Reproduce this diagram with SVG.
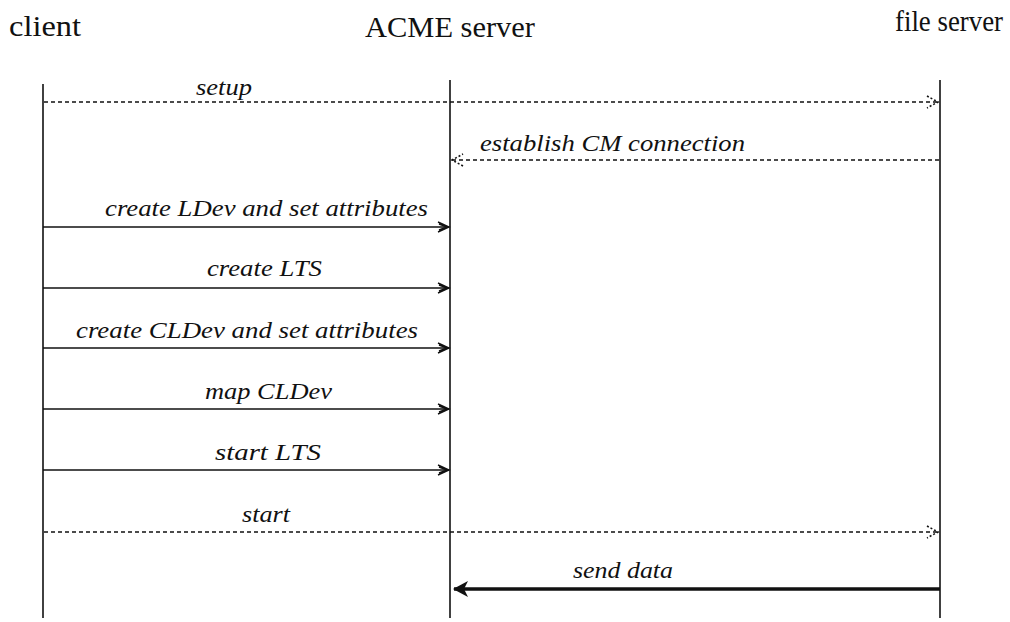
<svg xmlns="http://www.w3.org/2000/svg" width="1010" height="622" viewBox="0 0 1010 622">
  <style>
    .head { font-family: "Liberation Serif", "Times New Roman", serif; font-size: 29px; fill: #111; }
    .lbl { font-family: "Liberation Serif", "Times New Roman", serif; font-style: italic; font-size: 23px; fill: #111; }
    .life { stroke: #111; stroke-width: 1.6; fill: none; }
    .msg { stroke: #111; stroke-width: 1.6; fill: none; }
    .async { stroke: #111; stroke-width: 1.5; stroke-dasharray: 4 3; fill: none; }
    .bulk { stroke: #111; stroke-width: 3.5; fill: none; }
  </style>
  <defs>
    <!-- open chevron for synchronous calls -->
    <marker id="open" markerUnits="userSpaceOnUse" markerWidth="14" markerHeight="14" refX="11" refY="6" orient="auto" overflow="visible">
      <path d="M0,1 L11,6 L0,11 M1,3 L9,6 L1,9" fill="none" stroke="#111" stroke-width="1.4"/>
    </marker>
    <!-- dotted chevron for asynchronous notifications -->
    <marker id="dotted" markerUnits="userSpaceOnUse" markerWidth="14" markerHeight="14" refX="11" refY="6" orient="auto" overflow="visible">
      <path d="M0,0 L11,6 L0,12" fill="none" stroke="#111" stroke-width="1.6" stroke-dasharray="2 2"/>
    </marker>
    <!-- filled barb for the data stream -->
    <marker id="solid" markerUnits="userSpaceOnUse" markerWidth="18" markerHeight="16" refX="14" refY="8" orient="auto" overflow="visible">
      <path d="M0,0 L15,8 L0,16 L4,8 Z" fill="#111"/>
    </marker>
  </defs>

  <g id="client">
    <text class="head" x="9" y="36" textLength="72" lengthAdjust="spacingAndGlyphs">client</text>
    <line class="life" x1="43" y1="84" x2="43" y2="618"/>
  </g>
  <g id="acme-server">
    <text class="head" x="365" y="37" textLength="170" lengthAdjust="spacingAndGlyphs">ACME server</text>
    <line class="life" x1="450" y1="80" x2="450" y2="618"/>
  </g>
  <g id="file-server">
    <text class="head" x="895" y="31" textLength="108" lengthAdjust="spacingAndGlyphs">file server</text>
    <line class="life" x1="940" y1="80" x2="940" y2="618"/>
  </g>

  <g id="connectors">
    <line class="async" x1="44" y1="102" x2="938" y2="102" marker-end="url(#dotted)"/>
    <text class="lbl" x="196" y="95" textLength="56" lengthAdjust="spacingAndGlyphs">setup</text>

    <line class="async" x1="939" y1="160" x2="452" y2="160" marker-end="url(#dotted)"/>
    <text class="lbl" x="480" y="151" textLength="265" lengthAdjust="spacingAndGlyphs">establish CM connection</text>

    <line class="msg" x1="43" y1="227" x2="449" y2="227" marker-end="url(#open)"/>
    <text class="lbl" x="105" y="216" textLength="323" lengthAdjust="spacingAndGlyphs">create LDev and set attributes</text>

    <line class="msg" x1="43" y1="288" x2="449" y2="288" marker-end="url(#open)"/>
    <text class="lbl" x="207" y="276" textLength="115" lengthAdjust="spacingAndGlyphs">create LTS</text>

    <line class="msg" x1="43" y1="348" x2="449" y2="348" marker-end="url(#open)"/>
    <text class="lbl" x="76" y="338" textLength="342" lengthAdjust="spacingAndGlyphs">create CLDev and set attributes</text>

    <line class="msg" x1="43" y1="409" x2="449" y2="409" marker-end="url(#open)"/>
    <text class="lbl" x="205" y="399" textLength="127" lengthAdjust="spacingAndGlyphs">map CLDev</text>

    <line class="msg" x1="43" y1="470" x2="449" y2="470" marker-end="url(#open)"/>
    <text class="lbl" x="215" y="460" textLength="106" lengthAdjust="spacingAndGlyphs">start LTS</text>

    <line class="async" x1="44" y1="532" x2="938" y2="532" marker-end="url(#dotted)"/>
    <text class="lbl" x="242" y="522" textLength="48" lengthAdjust="spacingAndGlyphs">start</text>

    <line class="bulk" x1="940" y1="589" x2="454" y2="589" marker-end="url(#solid)"/>
    <text class="lbl" x="573" y="578" textLength="100" lengthAdjust="spacingAndGlyphs">send data</text>
  </g>
</svg>
